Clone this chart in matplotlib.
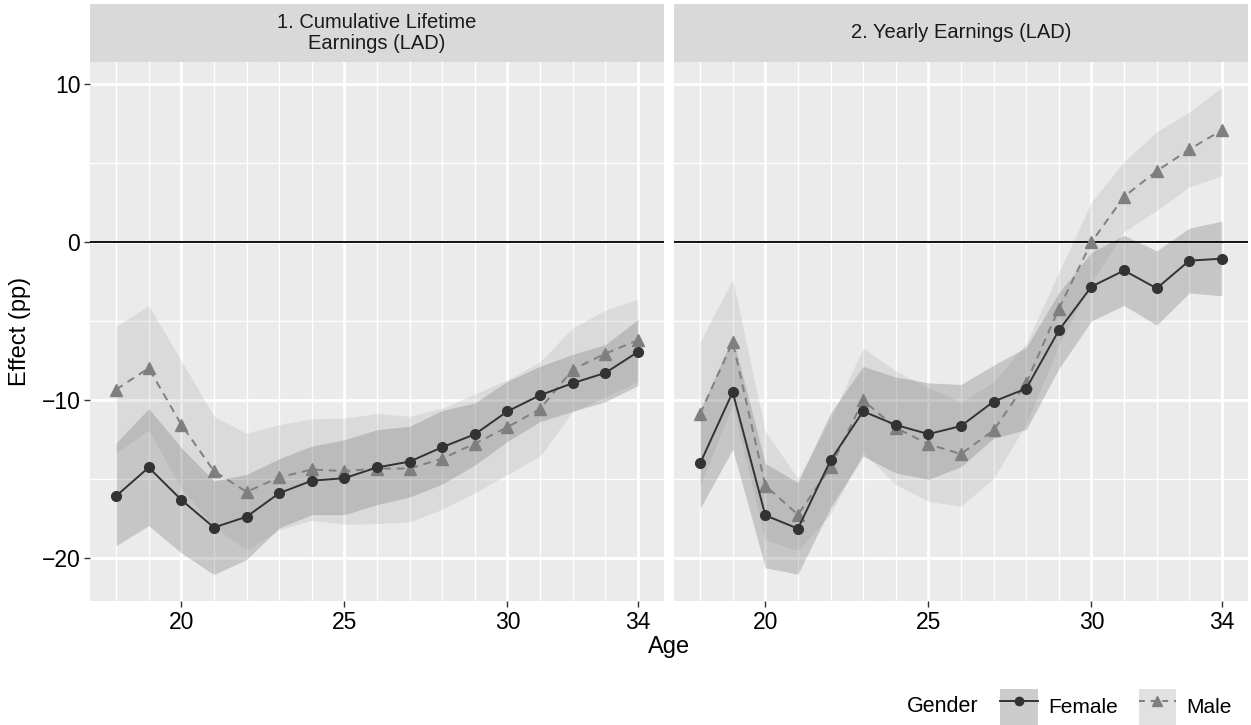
import matplotlib
matplotlib.use("Agg")
import matplotlib.pyplot as plt
from matplotlib.lines import Line2D
from matplotlib.patches import Patch
import numpy as np

plt.rcParams['font.family'] = ['Liberation Sans', 'DejaVu Sans']

ages = np.arange(18, 35)
panel_titles = ["1. Cumulative Lifetime\nEarnings (LAD)", "2. Yearly Earnings (LAD)"]

# panel 1: cumulative lifetime earnings
female_life = [-16.06, -14.25, -16.3, -18.05, -17.37, -15.88, -15.09, -14.93, -14.25,
               -13.88, -12.97, -12.15, -10.7, -9.68, -8.92, -8.27, -6.94]
female_life_lo = [-19.2, -17.93, -19.66, -21.03, -20.08, -18.08, -17.24, -17.24, -16.6,
                  -16.12, -15.3, -14.1, -12.6, -11.35, -10.7, -10.1, -9.07]
female_life_hi = [-12.7, -10.53, -13.0, -15.1, -14.7, -13.7, -12.9, -12.5, -11.86,
                  -11.65, -10.65, -10.17, -8.8, -7.85, -7.1, -6.48, -4.9]
male_life = [-9.32, -7.97, -11.54, -14.48, -15.79, -14.88, -14.38, -14.48, -14.32,
             -14.32, -13.69, -12.74, -11.7, -10.55, -8.06, -7.05, -6.2]
male_life_lo = [-13.32, -11.9, -15.6, -18.0, -19.5, -18.2, -17.6, -17.84, -17.8,
                -17.7, -16.9, -15.85, -14.7, -13.54, -10.7, -9.8, -8.81]
male_life_hi = [-5.32, -4.0, -7.5, -11.0, -12.1, -11.54, -11.18, -11.12, -10.84,
                -11.01, -10.5, -9.6, -8.7, -7.56, -5.42, -4.3, -3.59]

# panel 2: yearly earnings
female_year = [-14.0, -9.48, -17.28, -18.12, -13.8, -10.7, -11.56, -12.14, -11.63,
               -10.08, -9.26, -5.58, -2.81, -1.79, -2.92, -1.17, -1.04]
female_year_lo = [-16.84, -13.1, -20.6, -21.0, -16.8, -13.54, -14.6, -15.0, -14.2,
                  -12.4, -11.86, -8.0, -4.98, -4.0, -5.25, -3.21, -3.39]
female_year_hi = [-10.63, -6.0, -14.0, -15.2, -10.8, -7.86, -8.53, -8.9, -9.0,
                  -7.78, -6.65, -3.2, -0.64, 0.44, -0.55, 0.89, 1.33]
male_year = [-10.86, -6.31, -15.4, -17.24, -14.24, -10.01, -11.74, -12.78, -13.4,
             -11.9, -8.9, -4.21, 0.0, 2.88, 4.5, 5.87, 7.09]
male_year_lo = [-15.4, -10.3, -18.84, -19.5, -17.2, -13.3, -15.34, -16.4, -16.7,
                -14.95, -11.5, -6.5, -2.55, 0.66, 2.02, 3.5, 4.2]
male_year_hi = [-6.31, -2.33, -11.96, -14.95, -11.2, -6.69, -8.14, -9.2, -10.1,
                -8.85, -6.4, -1.9, 2.55, 5.1, 6.98, 8.24, 9.79]

panels = [
    (female_life, female_life_lo, female_life_hi, male_life, male_life_lo, male_life_hi),
    (female_year, female_year_lo, female_year_hi, male_year, male_year_lo, male_year_hi),
]

fcol = '#333333'
mcol = '#7f7f7f'
fill_f = ('#333333', 0.2)
fill_m = ('#7f7f7f', 0.15)

W, H = 1251, 725
fig = plt.figure(figsize=(W / 100, H / 100), dpi=100)

lefts = [90, 674]
pw = 574
ptop, pbot = 62, 601

for i, (fv, flo, fhi, mv, mlo, mhi) in enumerate(panels):
    ax = fig.add_axes([lefts[i] / W, 1 - pbot / H, pw / W, (pbot - ptop) / H])
    ax.set_facecolor('#EBEBEB')
    ax.set_xlim(17.2, 34.8)
    ax.set_ylim(-22.7, 11.4)
    ax.set_xticks([20, 25, 30, 34])
    ax.set_xticks([a for a in ages if a not in (20, 25, 30, 34)], minor=True)
    ax.set_yticks([-20, -10, 0, 10])
    ax.set_yticks([-15, -5, 5], minor=True)
    ax.grid(which='major', color='white', lw=2.0)
    ax.grid(which='minor', color='white', lw=1.0)
    ax.set_axisbelow(True)
    for s in ax.spines.values():
        s.set_visible(False)
    ax.tick_params(which='minor', length=0)
    ax.tick_params(which='major', length=4, width=1, color='#333333',
                   labelsize=16.5, labelcolor='black', pad=3)
    ax.set_yticklabels(['\u221220', '\u221210', '0', '10'])
    if i == 1:
        ax.tick_params(axis='y', which='major', length=0, labelleft=False)

    ax.fill_between(ages, flo, fhi, color=fill_f[0], alpha=fill_f[1], lw=0, zorder=2)
    ax.fill_between(ages, mlo, mhi, color=fill_m[0], alpha=fill_m[1], lw=0, zorder=2)
    ax.axhline(0, color='black', lw=1.3, zorder=3)
    ax.plot(ages, mv, color=mcol, ls=(0, (4, 3)), lw=1.4, marker='^', ms=8, zorder=4)
    ax.plot(ages, fv, color=fcol, ls='-', lw=1.4, marker='o', ms=7, zorder=5)

    sax = fig.add_axes([lefts[i] / W, 1 - ptop / H, pw / W, 58 / H])
    sax.set_facecolor('#D9D9D9')
    sax.set_xticks([])
    sax.set_yticks([])
    for s in sax.spines.values():
        s.set_visible(False)
    sax.text(0.5, 0.5, panel_titles[i], ha='center', va='center', fontsize=14.5,
             color='#1A1A1A', linespacing=1.1, transform=sax.transAxes)

fig.text(669 / W, 1 - 647 / H, 'Age', ha='center', va='center', fontsize=17)
fig.text(20 / W, 1 - 331 / H, 'Effect (pp)', ha='center', va='center',
         rotation=90, fontsize=17)

# legend
bg = np.array([242, 242, 242]) / 255
key_f = bg * (1 - fill_f[1]) + np.array([51, 51, 51]) / 255 * fill_f[1]
key_m = bg * (1 - fill_m[1]) + np.array([127, 127, 127]) / 255 * fill_m[1]
h_f = (Patch(facecolor=key_f, edgecolor='none'),
       Line2D([], [], color=fcol, lw=1.4, marker='o', ms=6))
h_m = (Patch(facecolor=key_m, edgecolor='none'),
       Line2D([], [], color=mcol, lw=1.4, ls=(0, (3, 3)), marker='^', ms=7))
leg = fig.legend([h_f, h_m], ['Female', 'Male'], loc='center right',
                 bbox_to_anchor=(1232 / W, 1 - 707 / H), ncol=2, frameon=False,
                 fontsize=15, handlelength=1.8, handleheight=2.35, columnspacing=1.0,
                 handletextpad=0.5, borderpad=0.0, borderaxespad=0.0)
fig.text(907 / W, 1 - 707 / H, 'Gender', ha='left', va='center', fontsize=15.5)

fig.savefig('out.png', dpi=100)
